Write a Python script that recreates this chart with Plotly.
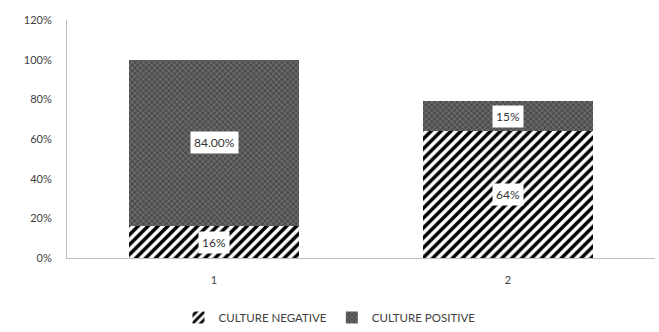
import plotly.graph_objects as go

categories = ["1", "2"]
culture_negative = [16, 64]
culture_positive = [84, 15]
neg_labels = ["16%", "64%"]
pos_labels = ["84.00%", "15%"]
tick_vals = [0, 20, 40, 60, 80, 100, 120]
tick_text = ["0%", "20%", "40%", "60%", "80%", "100%", "120%"]

font = "Lato, Carlito, 'Open Sans', sans-serif"

fig = go.Figure()
fig.add_trace(go.Bar(
    x=categories, y=culture_negative, name="CULTURE NEGATIVE",
    marker=dict(color="white", line=dict(width=0),
                pattern=dict(shape="/", fgcolor="#000000", bgcolor="white", size=7, solidity=0.5, fgopacity=1)),
    width=0.58,
))
fig.add_trace(go.Bar(
    x=categories, y=culture_positive, name="CULTURE POSITIVE",
    marker=dict(color="#555555", line=dict(width=0),
                pattern=dict(shape="x", fgcolor="#9a9a9a", bgcolor="#4e4e4e", size=4, solidity=0.4)),
    width=0.58,
))

annotations = []
for i, c in enumerate(categories):
    annotations.append(dict(x=i, y=culture_negative[i] / 2, text=neg_labels[i], showarrow=False,
                            xref="x", yref="y",
                            bgcolor="white", font=dict(size=12, color="#333333", family=font), borderpad=3))
    annotations.append(dict(x=i, y=culture_negative[i] + culture_positive[i] / 2, text=pos_labels[i],
                            showarrow=False, xref="x", yref="y", bgcolor="white",
                            font=dict(size=12, color="#333333", family=font), borderpad=3))

fig.update_layout(
    barmode="stack",
    width=659, height=332,
    margin=dict(l=67, r=4, t=20, b=74, autoexpand=False),
    plot_bgcolor="white", paper_bgcolor="white",
    font=dict(family=font, size=11, color="#404040"),
    showlegend=True,
    legend=dict(orientation="h", x=0.5, xanchor="center", xref="container",
                y=0.0, yanchor="bottom", yref="container",
                traceorder="normal",
                font=dict(size=11.5, color="#404040"), itemwidth=30, tracegroupgap=0),
    annotations=annotations,
    bargap=0.42,
)
fig.update_xaxes(type="category", range=[-0.5, 1.5], showline=True, linecolor="#bfbfbf", linewidth=1,
                 ticks="", showgrid=False, tickfont=dict(size=11, color="#404040"), ticklabelstandoff=12)
fig.update_yaxes(range=[0, 120], tickvals=tick_vals, ticktext=tick_text, showline=True,
                 linecolor="#bfbfbf", linewidth=1, showgrid=False, zeroline=False, ticks="",
                 tickfont=dict(size=11, color="#404040"), ticklabelstandoff=12)

fig.write_html("out.html")
